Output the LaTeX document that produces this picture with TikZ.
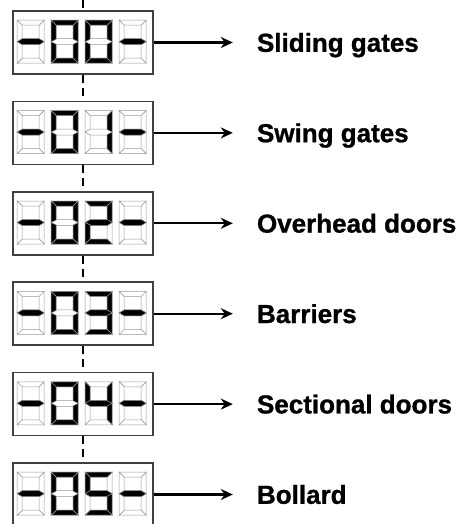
\documentclass[tikz,border=0pt]{standalone}
\usepackage{fontspec}
\setmainfont{Liberation Sans}[BoldFeatures={FakeBold=1}]
\usetikzlibrary{positioning, arrows.meta}

% segments of one digit, 27 x 43 pt, origin top left, y pointing down
\newcommand{\sega}[1]{\draw[#1] (0,0) -- (27,0) -- (22,5) -- (5,5) -- cycle;}
\newcommand{\segb}[1]{\draw[#1] (27,0) -- (22,5) -- (22,19) -- (27,21.5) -- cycle;}
\newcommand{\segc}[1]{\draw[#1] (27,43) -- (22,38) -- (22,24) -- (27,21.5) -- cycle;}
\newcommand{\segd}[1]{\draw[#1] (0,43) -- (27,43) -- (22,38) -- (5,38) -- cycle;}
\newcommand{\sege}[1]{\draw[#1] (0,43) -- (5,38) -- (5,24) -- (0,21.5) -- cycle;}
\newcommand{\segf}[1]{\draw[#1] (0,0) -- (5,5) -- (5,19) -- (0,21.5) -- cycle;}
\newcommand{\segg}[1]{\draw[#1] (0,21.5) -- (5,18.5) -- (22,18.5) -- (27,21.5) -- (22,24.5) -- (5,24.5) -- cycle;}

% lit segments of each symbol
\newcommand{\symdash}{\segg{segon}}
\newcommand{\symzero}{\sega{segon}\segb{segon}\segc{segon}\segd{segon}\sege{segon}\segf{segon}}
\newcommand{\symone}{\segb{segon}\segc{segon}}
\newcommand{\symtwo}{\sega{segon}\segb{segon}\segg{segon}\sege{segon}\segd{segon}}
\newcommand{\symthree}{\sega{segon}\segb{segon}\segg{segon}\segc{segon}\segd{segon}}
\newcommand{\symfour}{\segf{segon}\segg{segon}\segb{segon}\segc{segon}}
\newcommand{\symfive}{\sega{segon}\segf{segon}\segg{segon}\segc{segon}\segd{segon}}

% #1 = top left corner, #2 = lit segments
\newcommand{\segdigit}[2]{%
  \begin{scope}[shift={#1}]
    \sega{segoff}\segb{segoff}\segc{segoff}\segd{segoff}\sege{segoff}\segf{segoff}\segg{segoff}
    #2
  \end{scope}}

% #1 = panel node, #2 = third symbol
\newcommand{\paneldigits}[2]{%
  \segdigit{([shift={(5,10)}]#1.north west)}{\symdash}
  \segdigit{([shift={(39,10)}]#1.north west)}{\symzero}
  \segdigit{([shift={(73,10)}]#1.north west)}{#2}
  \segdigit{([shift={(107,10)}]#1.north west)}{\symdash}}

\begin{document}
\begin{tikzpicture}[
    x=1pt, y=-1pt,
    node distance=25.8pt and 103pt,
    panel/.style={rectangle, draw=black!75, line width=1.6pt, fill=white, minimum width=140pt, minimum height=63pt, inner sep=0pt},
    segoff/.style={draw=black!40, line width=0.5pt, fill=white},
    segon/.style={draw=black!40, line width=0.5pt, fill=black},
    lbl/.style={font=\bfseries\fontsize{26}{30}\selectfont, inner sep=0pt, text height=23.6pt, text depth=5pt},
    arrow/.style={-{Stealth[length=12pt, width=11pt]}, line width=2.2pt, shorten >=24pt},
    guide/.style={line width=1.1pt, dash pattern=on 8pt off 5pt}
]
\useasboundingbox (0,0) rectangle (458,524);

% --- Displays ---
\node[panel] (d0) at (83,42.5) {};
\node[panel, below=of d0] (d1) {};
\node[panel, below=of d1] (d2) {};
\node[panel, below=of d2] (d3) {};
\node[panel, below=of d3] (d4) {};
\node[panel, below=of d4] (d5) {};

\paneldigits{d0}{\symzero}
\paneldigits{d1}{\symone}
\paneldigits{d2}{\symtwo}
\paneldigits{d3}{\symthree}
\paneldigits{d4}{\symfour}
\paneldigits{d5}{\symfive}

% --- Labels ---
\node[lbl, right=of d0] (l0) {Sliding gates};
\node[lbl, right=of d1] (l1) {Swing gates};
\node[lbl, right=of d2] (l2) {Overhead doors};
\node[lbl, right=of d3] (l3) {Barriers};
\node[lbl, right=of d4] (l4) {Sectional doors};
\node[lbl, right=of d5] (l5) {Bollard};

\draw[arrow] (d0) -- (l0);
\draw[arrow] (d1) -- (l1);
\draw[arrow] (d2) -- (l2);
\draw[arrow] (d3) -- (l3);
\draw[arrow] (d4) -- (l4);
\draw[arrow] (d5) -- (l5);

% --- Dashed guide through the displays ---
\coordinate (top) at (83,0);
\draw[guide] (top) -- (d0.north);
\draw[guide] (d0.south) -- (d1.north);
\draw[guide] (d1.south) -- (d2.north);
\draw[guide] (d2.south) -- (d3.north);
\draw[guide] (d3.south) -- (d4.north);
\draw[guide] (d4.south) -- (d5.north);

\end{tikzpicture}
\end{document}
